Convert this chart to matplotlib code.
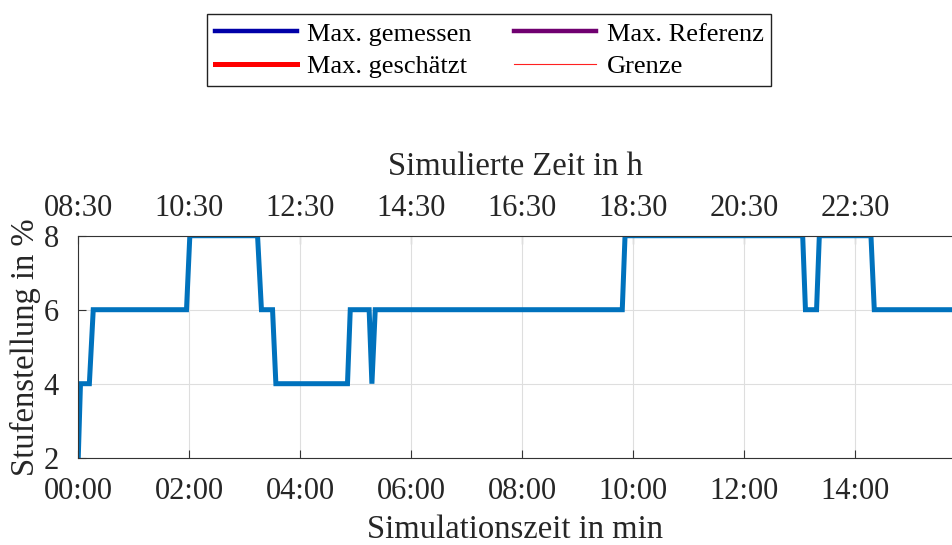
"""
Stufenstellung über der Simulationszeit, oben zusätzlich die simulierte Uhrzeit.
"""

import matplotlib
matplotlib.use("Agg")
import matplotlib.pyplot as plt
from matplotlib.lines import Line2D
from matplotlib.ticker import FuncFormatter

plt.rcParams["font.family"] = ["Liberation Serif", "DejaVu Serif"]
FS = 22       # Tick-Beschriftung
FS_LAB = 23.5  # Achsentitel
FS_LEG = 19   # Legende

# Stützstellen der Stufenstellung (Zeit in min, Wert in %)
t_min = [0.00, 0.04, 0.20, 0.27, 1.95, 2.01, 3.23, 3.30, 3.50, 3.56,
         4.85, 4.90, 5.24, 5.29, 5.35, 9.80, 9.85, 13.05, 13.10, 13.30,
         13.35, 14.28, 14.34, 15.74]
stufe = [2, 4, 4, 6, 6, 8, 8, 6, 6, 4,
         4, 6, 6, 4, 6, 6, 8, 8, 6, 6,
         8, 8, 6, 6]

x_ticks = [0, 2, 4, 6, 8, 10, 12, 14]
y_ticks = [2, 4, 6, 8]
start_h, start_m = 8, 30  # Uhrzeit bei Simulationsbeginn

# Legendeneinträge (Name, Farbe, Linienbreite)
leg_names = ["Max. gemessen", "Max. geschätzt", "Max. Referenz", "Grenze"]
leg_colors = ["#0000a8", "#ff0000", "#700070", "#ff2020"]
leg_widths = [3.2, 3.6, 3.2, 0.8]

TXT = "#262626"
BLUE = (0, 0.447, 0.741)

fig = plt.figure(figsize=(9.52, 5.45), dpi=100)
ax = fig.add_axes([0.0822, 0.1602, 0.9178, 0.4073])

ax.plot(t_min, stufe, color=BLUE, lw=3.6, solid_joinstyle="miter")

ax.set_xlim(0, 15.74)
ax.set_ylim(2, 8)
ax.set_xticks(x_ticks)
ax.set_yticks(y_ticks)
ax.xaxis.set_major_formatter(FuncFormatter(lambda v, p: f"{int(v):02d}:00"))
ax.grid(True, color="#dedede", lw=0.8)
ax.set_axisbelow(True)
ax.tick_params(axis="x", direction="in", length=6, width=0.8, colors="#333333",
               labelcolor=TXT, labelsize=FS, pad=14)
ax.tick_params(axis="y", direction="in", length=6, width=0.8, colors="#333333",
               labelcolor=TXT, labelsize=FS, pad=14)
for s in ("left", "bottom", "top"):
    ax.spines[s].set_color("#333333")
    ax.spines[s].set_linewidth(0.8)
ax.spines["right"].set_visible(False)

ax.set_xlabel("Simulationszeit in min", color=TXT, fontsize=FS_LAB, labelpad=6)
ax.set_ylabel("Stufenstellung in %", color=TXT, fontsize=FS_LAB, labelpad=2)

# obere Achse: simulierte Uhrzeit (1 min Simulation = 1 h)
def uhrzeit(v, p):
    h = start_h + int(round(v))
    return f"{h:02d}:{start_m:02d}"

top = ax.secondary_xaxis("top")
top.set_xticks(x_ticks)
top.xaxis.set_major_formatter(FuncFormatter(uhrzeit))
top.tick_params(direction="in", length=6, width=0.8, colors="#333333",
                labelcolor=TXT, labelsize=FS, pad=9)
top.spines["top"].set_visible(False)
top.set_xlabel("Simulierte Zeit in h", color=TXT, fontsize=FS_LAB, labelpad=14)

handles = [Line2D([], [], color=c, lw=w) for c, w in zip(leg_colors, leg_widths)]
fig.legend(handles, leg_names, loc="center", bbox_to_anchor=(0.514, 0.908),
           ncol=2, fancybox=False, edgecolor="#222222", framealpha=1,
           fontsize=FS_LEG, handlelength=3.1, columnspacing=1.6,
           handletextpad=0.4, labelspacing=0.35, borderpad=0.3,
           labelcolor="black")

fig.savefig("out.png", dpi=100)
